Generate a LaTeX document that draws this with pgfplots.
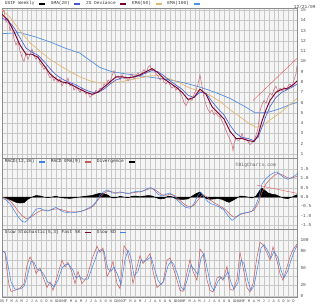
\documentclass[border=0pt]{standalone}
\usepackage{fontspec}
\setmainfont{Liberation Mono}
\usepackage{pgfplots}
\pgfplotsset{compat=1.18}
\definecolor{price}{RGB}{200,105,120}
\definecolor{maroon}{RGB}{125,0,45}
\definecolor{shortblue}{RGB}{70,90,210}
\definecolor{tan}{RGB}{225,185,115}
\definecolor{longblue}{RGB}{85,145,225}
\definecolor{trend}{RGB}{230,85,85}
\definecolor{macdblue}{RGB}{60,130,230}
\definecolor{macdred}{RGB}{200,90,90}
\definecolor{gridc}{RGB}{200,200,200}
\definecolor{bgc}{RGB}{245,245,245}
\pgfplotsset{
 panel/.style={
  scale only axis, width=295pt, xmin=2, xmax=297,
  axis background/.style={fill=bgc},
  grid=major, grid style={gridc, line width=0.3pt},
  axis line style={black!45, line width=0.4pt},
  tick style={draw=none},
  yticklabel pos=right,
  ticklabel style={font=\fontsize{4.5}{5}\selectfont, text=black!70},
  /pgf/number format/assume math mode=true,
  xtick={2,6.94,...,294},
  legend image code/.code={\draw[##1,line width=1.3pt] (0pt,0pt) -- (6pt,0pt);},
  legend style={draw=none, fill=none, inner sep=0pt, outer sep=0pt,
    font=\fontsize{4.5}{5}\selectfont, text=black!80, legend columns=-1,
    /tikz/every odd column/.append style={column sep=2pt},
    /tikz/every even column/.append style={column sep=3pt}},
  legend plot pos=right,
 }
}
\begin{document}
\begin{tikzpicture}
\useasboundingbox (0,0) rectangle (320pt,303pt);
% ---------------- price panel ----------------
\begin{axis}[panel, at={(2pt,145pt)}, anchor=south west, height=150pt,
  ymin=0.6, ymax=15.2, ytick={1,...,15}, xticklabels={},
  legend style={at={(0.003,1)}, anchor=west, yshift=4pt,
   /tikz/column 2/.append style={column sep=26pt}}]
\addlegendimage{black}\addlegendentry{USIF Weekly}
\addlegendimage{shortblue}\addlegendentry{SMA(20)}
\addlegendimage{maroon}\addlegendentry{2S Deviance}
\addlegendimage{tan}\addlegendentry{EMA(50)}
\addlegendimage{longblue}\addlegendentry{EMA(100)}
% EMA(100)
\addplot[longblue, line width=0.7pt, forget plot] coordinates {
(2,12.7)(20,12.8)(35,12.4)(50,11.9)(65,11.3)(80,10.8)(90,10.1)(100,9.4)(112,9.0)(125,8.8)(140,8.6)(155,8.4)(170,8.2)(185,7.9)(200,7.5)(215,7.0)(230,6.4)(245,5.6)(255,5.0)(262,5.0)(270,5.1)(280,5.4)(290,5.8)(297,6.0)};
% EMA(50)
\addplot[tan, line width=0.7pt, forget plot] coordinates {
(2,15.0)(10,14.3)(20,13.0)(30,11.8)(40,11.0)(50,10.2)(60,9.6)(70,9.0)(80,8.5)(90,8.1)(100,7.9)(110,7.9)(120,8.0)(130,8.2)(140,8.4)(150,8.6)(160,8.6)(170,8.3)(180,7.9)(190,7.4)(200,7.1)(210,6.7)(220,6.1)(230,5.3)(240,4.6)(250,3.9)(256,3.6)(262,3.7)(270,4.3)(280,5.0)(290,5.8)(297,6.4)};
% weekly price
\addplot[price, line width=0.5pt, forget plot] coordinates {
(2,14.8)(4,15.0)(6,13.8)(8,14.2)(10,13.0)(12,13.5)(14,12.2)(16,11.6)(18,12.0)(20,11.0)(22,10.4)(24,10.0)(26,10.8)(28,10.2)(30,10.7)(32,11.2)(34,10.6)(36,10.2)(38,10.6)(40,9.8)(42,9.6)(44,9.2)(46,9.5)(48,8.8)(50,8.4)(52,8.6)(54,8.1)(56,8.5)(58,8.0)(60,8.3)(62,7.6)(64,8.0)(66,7.8)(68,8.4)(70,7.6)(72,7.9)(74,7.2)(76,7.5)(78,7.3)(80,7.0)(82,7.4)(84,7.1)(86,6.8)(88,7.0)(90,6.5)(92,6.7)(94,6.8)(96,7.2)(98,7.0)(100,7.4)(102,7.3)(104,7.8)(106,7.6)(108,8.2)(110,8.0)(112,8.6)(114,9.1)(116,8.4)(118,8.6)(120,8.2)(122,8.7)(124,8.3)(126,8.5)(128,8.1)(130,8.4)(132,8.8)(134,8.3)(136,8.6)(138,8.9)(140,8.5)(142,8.9)(144,9.2)(146,8.8)(148,9.4)(150,9.6)(152,9.1)(154,9.3)(156,8.8)(158,8.6)(160,8.2)(162,8.4)(164,8.0)(166,7.8)(168,8.1)(170,7.7)(172,7.4)(174,7.6)(176,7.2)(178,7.5)(180,7.0)(182,6.6)(184,6.0)(186,5.7)(188,6.1)(190,6.4)(192,6.2)(194,6.8)(196,7.2)(198,7.8)(200,8.7)(202,7.6)(204,6.5)(206,5.8)(208,5.3)(210,5.0)(212,5.3)(214,4.8)(216,5.0)(218,4.7)(220,4.6)(222,4.2)(224,3.8)(226,3.3)(228,2.8)(230,2.4)(232,1.9)(233,1.3)(234,2.0)(236,2.5)(238,2.3)(240,2.4)(242,3.0)(244,2.4)(246,2.5)(248,2.2)(250,1.9)(252,2.1)(254,2.3)(256,2.8)(258,3.5)(260,5.2)(262,5.8)(264,6.2)(266,5.9)(268,6.5)(270,6.9)(272,6.7)(274,7.3)(276,7.6)(278,7.0)(280,7.4)(282,7.1)(284,7.5)(286,7.2)(288,7.6)(290,7.8)(292,7.5)(294,8.2)(296,8.8)(297,9.6)};
% short blue average
\addplot[shortblue, line width=0.6pt, forget plot] coordinates {
(2,14.2)(8,14.0)(14,13.3)(20,12.3)(26,11.3)(32,10.9)(38,10.6)(44,10.0)(50,9.3)(56,8.7)(62,8.3)(68,8.0)(74,7.8)(80,7.5)(86,7.2)(92,7.0)(98,7.0)(104,7.3)(110,7.8)(116,8.2)(122,8.4)(128,8.4)(134,8.5)(140,8.6)(146,8.9)(152,9.1)(158,9.0)(164,8.6)(170,8.1)(176,7.7)(182,7.3)(188,6.7)(194,6.5)(200,7.0)(206,6.9)(212,6.1)(218,5.4)(224,4.8)(230,3.8)(236,3.0)(242,2.6)(248,2.5)(254,2.3)(258,2.6)(262,3.6)(266,4.7)(270,5.6)(276,6.5)(282,7.0)(288,7.3)(294,7.6)(297,7.8)};
% dark red average
\addplot[maroon, line width=0.9pt, forget plot] coordinates {
(2,14.6)(8,14.0)(14,12.9)(20,11.6)(26,10.7)(32,10.7)(38,10.4)(44,9.6)(50,8.8)(56,8.3)(62,8.0)(68,7.9)(74,7.6)(80,7.3)(86,7.0)(92,6.8)(98,7.0)(104,7.5)(110,8.0)(116,8.5)(122,8.5)(128,8.4)(134,8.5)(140,8.7)(146,9.0)(152,9.3)(158,8.9)(164,8.3)(170,7.9)(176,7.5)(182,7.0)(188,6.3)(194,6.5)(200,7.3)(206,6.8)(212,5.6)(218,5.0)(224,4.4)(230,3.2)(236,2.5)(242,2.5)(248,2.3)(254,2.2)(258,2.8)(262,4.2)(266,5.3)(270,6.2)(276,7.0)(282,7.3)(288,7.4)(294,7.8)(297,8.1)};
% trend line
\addplot[trend, line width=0.4pt, forget plot] coordinates {(253,6.2)(297,10.3)};
\end{axis}
% ---------------- MACD panel ----------------
\begin{axis}[panel, at={(2pt,74pt)}, anchor=south west, height=71pt,
  ymin=-1.71, ymax=2.09, ytick={-1.5,-1,...,1.5}, xticklabels={},
  yticklabel style={/pgf/number format/.cd, fixed, fixed zerofill, precision=1},
  legend style={at={(0.003,1)}, anchor=west, yshift=-4pt}]
\addlegendimage{macdblue}\addlegendentry{MACD(12,26)}
\addlegendimage{macdred}\addlegendentry{MACD EMA(9)}
\addlegendimage{black}\addlegendentry{Divergence}
\addplot[fill=black, draw=black, line width=0.5pt, forget plot] coordinates {
(2,0.0)(5,-0.05)(8,-0.1)(12,-0.18)(16,-0.28)(20,-0.32)(24,-0.3)(27,-0.15)(30,-0.05)(33,0.02)(36,0.08)(40,0.06)(44,0.0)(48,-0.03)(52,0.0)(56,0.05)(60,-0.02)(64,-0.05)(70,-0.07)(76,-0.03)(82,0.02)(88,0.06)(92,0.08)(96,0.15)(100,0.2)(104,0.18)(108,0.1)(112,-0.05)(116,-0.04)(120,0.04)(124,0.0)(128,-0.04)(132,0.04)(136,0.05)(140,0.02)(144,0.05)(148,0.08)(152,0.06)(156,-0.03)(160,-0.1)(164,-0.08)(168,0.05)(172,0.02)(176,-0.1)(180,-0.12)(184,-0.12)(188,-0.1)(192,0.05)(196,0.18)(200,0.27)(203,0.12)(206,-0.08)(210,-0.12)(214,-0.1)(218,-0.08)(222,-0.12)(226,-0.22)(229,-0.28)(232,-0.2)(236,-0.08)(240,0.05)(244,0.04)(248,0.0)(252,-0.05)(256,0.05)(259,0.3)(262,0.48)(265,0.35)(268,0.22)(272,0.15)(276,0.12)(280,0.02)(284,-0.06)(288,-0.08)(292,0.0)(295,0.08)(297,0.12)} \closedcycle;
\addplot[macdred, line width=0.5pt, forget plot] coordinates {
(2,0.0)(6,-0.08)(10,-0.2)(14,-0.45)(18,-0.75)(22,-1.0)(26,-1.15)(30,-1.1)(34,-0.95)(38,-0.8)(42,-0.7)(46,-0.7)(50,-0.7)(54,-0.65)(58,-0.63)(62,-0.68)(68,-0.78)(74,-0.8)(80,-0.78)(86,-0.68)(90,-0.6)(94,-0.45)(98,-0.15)(102,0.1)(106,0.28)(110,0.3)(114,0.25)(118,0.22)(122,0.24)(126,0.22)(130,0.2)(134,0.24)(138,0.27)(142,0.3)(146,0.38)(150,0.45)(154,0.42)(158,0.28)(162,0.12)(166,0.1)(170,0.15)(174,0.1)(178,-0.08)(182,-0.28)(186,-0.45)(190,-0.52)(194,-0.45)(198,-0.15)(202,0.12)(206,0.05)(210,-0.15)(214,-0.3)(218,-0.42)(222,-0.55)(226,-0.7)(230,-0.92)(234,-1.08)(238,-1.0)(242,-0.9)(246,-0.85)(250,-0.8)(254,-0.7)(258,-0.35)(262,0.25)(266,0.7)(270,0.95)(274,1.15)(278,1.27)(282,1.2)(286,1.08)(290,1.0)(294,1.05)(297,1.12)};
\addplot[macdblue, line width=0.5pt, forget plot] coordinates {
(2,-0.05)(6,-0.15)(10,-0.35)(14,-0.7)(18,-1.05)(22,-1.3)(25,-1.35)(28,-1.2)(32,-0.95)(36,-0.65)(40,-0.6)(44,-0.7)(48,-0.75)(52,-0.65)(56,-0.55)(60,-0.7)(64,-0.8)(70,-0.85)(76,-0.82)(82,-0.75)(88,-0.6)(92,-0.5)(96,-0.25)(100,0.1)(104,0.3)(108,0.38)(112,0.22)(116,0.2)(120,0.28)(124,0.22)(128,0.18)(132,0.25)(136,0.3)(140,0.28)(144,0.35)(148,0.48)(151,0.5)(154,0.4)(158,0.15)(162,0.05)(166,0.15)(170,0.22)(174,0.05)(178,-0.2)(182,-0.4)(186,-0.55)(190,-0.6)(194,-0.35)(198,0.1)(201,0.25)(204,0.0)(208,-0.25)(212,-0.38)(216,-0.45)(220,-0.55)(224,-0.7)(228,-1.0)(232,-1.25)(236,-1.1)(240,-0.9)(244,-0.85)(248,-0.82)(252,-0.75)(256,-0.4)(259,0.0)(262,0.7)(266,1.0)(270,1.18)(274,1.3)(277,1.35)(280,1.2)(284,1.05)(288,0.95)(292,1.05)(295,1.15)(297,1.25)};
\addplot[trend, line width=0.4pt, forget plot] coordinates {(257,0.64)(297,0.2)};
\node[anchor=west, font=\fontsize{4.8}{5}\selectfont, text=black!60] at (rel axis cs:0.78,0.9) {\textcopyright BigCharts.com};
\end{axis}
% ---------------- Stochastic panel ----------------
\begin{axis}[panel, at={(2pt,6pt)}, anchor=south west, height=68pt,
  ymin=-2, ymax=120, ytick={0,20,50,80,100}, minor ytick={35,65},
  grid=both, minor grid style={gridc, line width=0.3pt},
  xticklabels={05,F,M,A,M,J,J,A,S,O,N,D,2006,F,M,A,M,J,J,A,S,O,N,D,2007,F,M,A,M,J,J,A,S,O,N,D,2008,F,M,A,M,J,J,A,S,O,N,D,2009,F,M,A,M,J,J,A,S,O,N,D},
  xticklabel style={font=\fontsize{3.8}{4}\selectfont, yshift=1pt},
  legend style={at={(0.003,1)}, anchor=west, yshift=-3.5pt}]
\addlegendimage{maroon}\addlegendentry{Slow Stochastic(5,3) Fast \%K}
\addlegendimage{macdblue}\addlegendentry{Slow \%D}
\addplot[macdred, line width=0.5pt, forget plot] coordinates {
(2,82)(5,77)(7,45)(9,20)(11,8)(15,10)(20,14)(24,22)(27,55)(30,70)(33,60)(36,40)(40,50)(43,34)(47,15)(50,25)(53,10)(57,34)(62,64)(65,52)(68,60)(72,42)(75,22)(78,44)(82,22)(87,34)(92,66)(97,89)(100,78)(103,86)(107,35)(110,45)(113,62)(117,22)(120,13)(124,90)(127,82)(130,58)(133,22)(137,52)(140,72)(143,58)(147,68)(150,76)(153,44)(157,15)(160,20)(163,24)(167,64)(170,68)(173,52)(177,28)(180,10)(183,8)(187,42)(190,65)(193,44)(197,28)(200,84)(203,77)(207,28)(210,10)(213,7)(217,32)(220,35)(223,28)(227,53)(230,12)(233,10)(237,30)(240,78)(243,52)(247,15)(250,7)(253,22)(257,70)(260,96)(263,92)(267,77)(270,64)(273,88)(277,63)(280,40)(283,28)(287,52)(290,70)(293,83)(297,93)};
\addplot[macdblue, line width=0.5pt, forget plot] coordinates {
(2,80)(5,79)(8,55)(11,25)(15,12)(20,12)(24,17)(28,40)(31,62)(34,60)(37,48)(41,45)(44,38)(48,24)(51,22)(54,16)(58,28)(62,50)(66,57)(69,56)(73,46)(76,32)(79,36)(83,30)(88,30)(93,55)(98,80)(101,83)(104,80)(108,48)(111,44)(114,52)(118,36)(121,20)(125,65)(128,82)(131,68)(134,36)(138,44)(141,64)(144,62)(148,66)(151,70)(154,52)(158,28)(161,20)(164,28)(168,54)(171,62)(174,56)(178,36)(181,16)(184,10)(188,34)(191,55)(194,48)(198,38)(201,68)(204,76)(208,42)(211,18)(214,10)(218,26)(221,33)(224,31)(228,44)(231,24)(234,12)(238,24)(241,64)(244,58)(248,26)(251,10)(254,18)(258,55)(261,86)(264,92)(268,80)(271,68)(274,80)(278,68)(281,46)(284,32)(288,46)(291,64)(294,79)(297,90)};
\end{axis}
\node[anchor=north east, font=\fontsize{4.5}{5}\selectfont, text=black!75] at (319pt,301.5pt) {12/21/09};
\end{tikzpicture}
\end{document}
